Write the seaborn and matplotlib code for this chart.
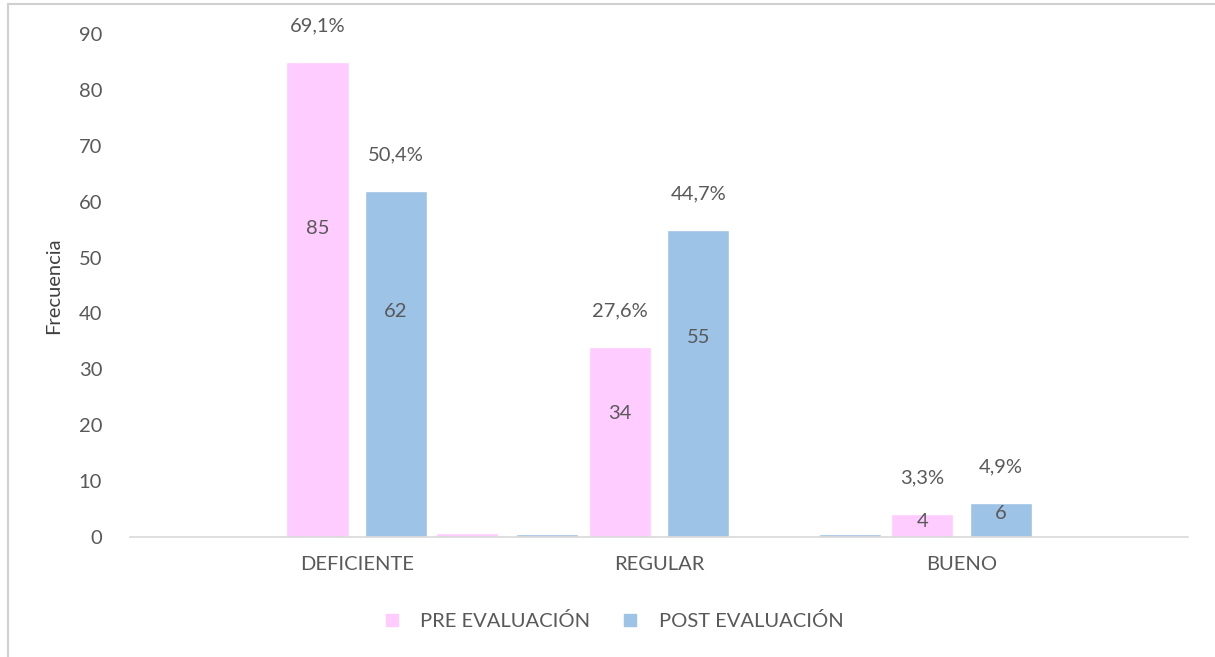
import numpy as np
import pandas as pd
import seaborn as sns
import matplotlib.pyplot as plt
from matplotlib.lines import Line2D

# datos del grafico
categorias = ["DEFICIENTE", "REGULAR", "BUENO"]
pre_eval = [85, 34, 4]
post_eval = [62, 55, 6]
pre_pct = ["69,1%", "27,6%", "3,3%"]
post_pct = ["50,4%", "44,7%", "4,9%"]
# barras residuales casi en cero (serie de porcentajes en Excel)
resto_pre = [0.6, 0.0, 0.0]
resto_post = [0.0, 0.5, 0.5]

rosa = "#FFCCFF"
azul = "#9DC3E6"
gris = "#595959"
fs = 14.5

sns.set_theme(style="white")
plt.rcParams['font.family'] = ['Lato', 'DejaVu Sans']

df = pd.DataFrame({
    "cat": categorias * 2,
    "serie": ["PRE EVALUACIÓN"] * 3 + ["POST EVALUACIÓN"] * 3,
    "valor": pre_eval + post_eval,
})

fig = plt.figure(figsize=(12.15, 6.57), dpi=100)
ax = fig.add_axes([0.107, 0.183, 0.871, 0.765])

sns.barplot(data=df, x="cat", y="valor", hue="serie", order=categorias,
            palette=[rosa, azul], width=0.52, gap=0.21, ax=ax,
            saturation=1, legend=False)

# barras residuales
pos = np.arange(len(categorias))
ax.bar(pos + 0.366, resto_pre, width=0.205, color=rosa)
ax.bar(pos - 0.37, resto_post, width=0.205, color=azul)

# etiquetas de valores
for i in range(len(categorias)):
    for off, v, p in [(-0.13, pre_eval[i], pre_pct[i]), (0.13, post_eval[i], post_pct[i])]:
        ax.text(pos[i] + off, v * 0.65 if v > 10 else v * 0.7, str(v),
                ha="center", va="center", fontsize=fs, color=gris)
        ax.annotate(p, (pos[i] + off, v), xytext=(0, 26), textcoords="offset points",
                    ha="center", va="center", fontsize=fs, color=gris,
                    annotation_clip=False)

ax.set_xlim(-0.75, 2.75)
ax.set_ylim(0, 90)
ax.set_yticks(range(0, 91, 10))
ax.set_xlabel("")
ax.set_ylabel("Frecuencia", fontsize=fs, color="#404040", labelpad=12)
ax.tick_params(axis="both", length=0, labelsize=fs, colors=gris)
ax.tick_params(axis="x", pad=14)
ax.tick_params(axis="y", pad=20)
for s in ["top", "right", "left"]:
    ax.spines[s].set_visible(False)
ax.spines["bottom"].set_color("#D9D9D9")
ax.spines["bottom"].set_linewidth(1.2)

handles = [Line2D([], [], marker="s", linestyle="", markersize=8, color=rosa),
           Line2D([], [], marker="s", linestyle="", markersize=8, color=azul)]
fig.legend(handles, ["PRE EVALUACIÓN", "POST EVALUACIÓN"], loc="center",
           bbox_to_anchor=(0.5, 0.055), ncol=2, frameon=False, fontsize=fs,
           labelcolor=gris, handletextpad=0.4, columnspacing=1.0)

# borde del grafico
fig.add_artist(Line2D([0.0066, 1.0], [0.994, 0.994], color="#D0D0D0", lw=1.5))
fig.add_artist(Line2D([0.0066, 0.0066], [0.0, 0.994], color="#D0D0D0", lw=1.5))

fig.savefig("out.png", dpi=100)
